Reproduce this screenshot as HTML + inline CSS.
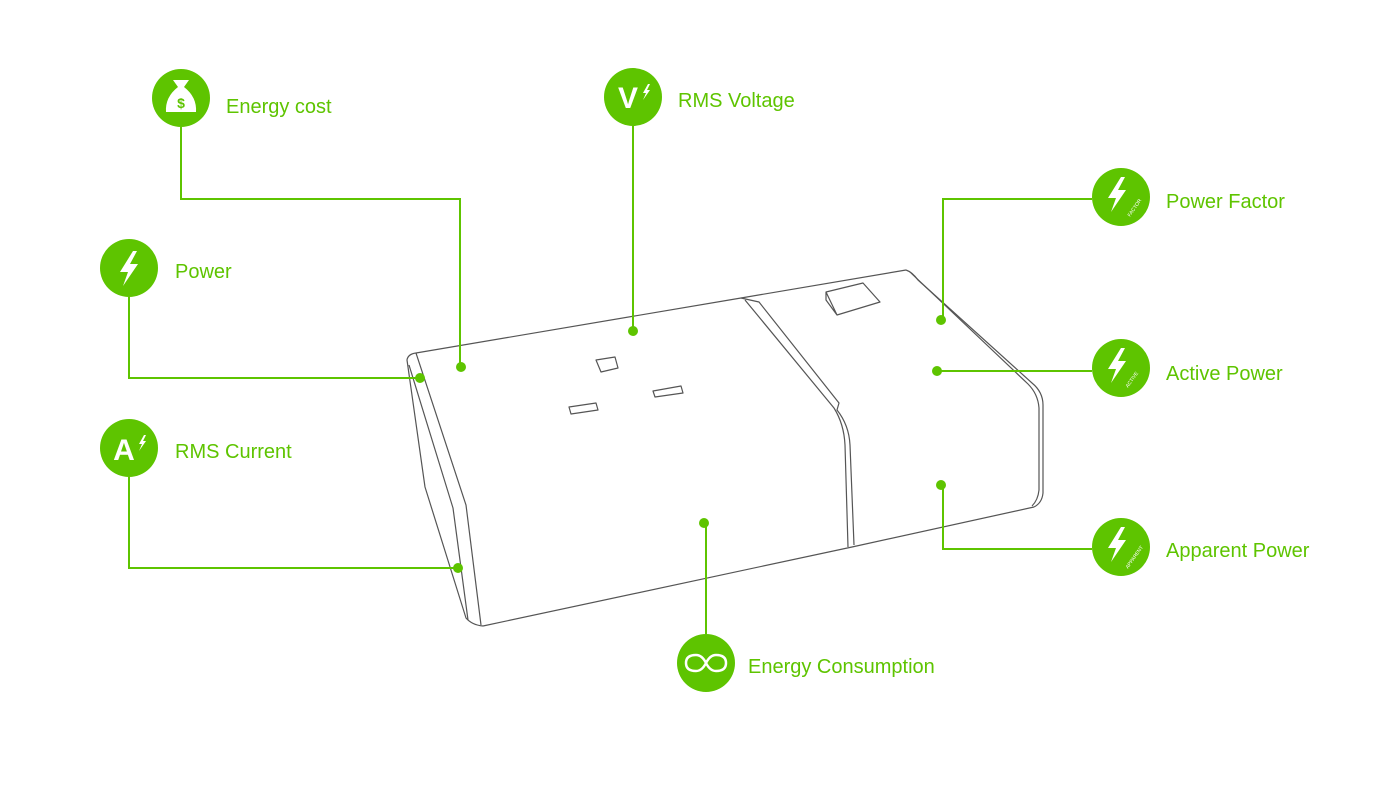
<!DOCTYPE html>
<html><head><meta charset="utf-8"><style>
html,body{margin:0;padding:0;background:#fff;}
svg{display:block;}
text{font-family:"Liberation Sans",sans-serif;}
</style></head><body>
<svg width="1400" height="788" viewBox="0 0 1400 788" xmlns="http://www.w3.org/2000/svg">
<defs>
<g id="bolt"><path d="M4,-17 L-9,4 L-1,4 L-6,18 L9,-4 L1,-4 L8,-17 Z" fill="#fff"/></g>
</defs>
<!-- device -->
<g fill="none" stroke="#555" stroke-width="1.2" stroke-linejoin="round">
<path d="M416,353 L741,298 L906,270"/>
<path d="M416,353 Q408,354 407,360 L425,487 L466,618 Q472,625 483,626"/>
<path d="M416,353 L466,505 L481,625"/>
<path d="M409,365 L453,508 L468,620"/>
<path d="M483,626 L852,547 L1034,507"/>
<path d="M906,270 Q912,272 918,280 L1032,383 Q1043,392 1043,405 L1043,493 Q1042,503 1034,507"/>
<path d="M911,273 L1028,384 Q1038,394 1039,408 L1039,490 Q1038,500 1032,506"/>
<path d="M741,298 L759,302 L839,403 L837,410 Q849,425 850,445 L854,545"/>
<path d="M745,300 L834,408 Q844,424 845,445 L848,547"/>
<path d="M826,292 L863,283 L880,302 L837,315 Z M826,292 L826,300 L837,315"/>
<path d="M596,360 L615,357 L618,368 L601,372 Z"/>
<path d="M569,407 L596,403 L598,410 L571,414 Z"/>
<path d="M653,391 L681,386 L683,393 L655,397 Z"/>
</g>
<!-- connectors -->
<g fill="none" stroke="#5ec400" stroke-width="2">
<path d="M181,127 V199 H460 V367"/>
<path d="M633,126 V331"/>
<path d="M129,297 V378 H420"/>
<path d="M129,477 V568 H458"/>
<path d="M1092,199 H943 V320"/>
<path d="M1092,371 H937"/>
<path d="M1092,549 H943 V485"/>
<path d="M706,634 V523"/>
</g>
<g fill="#5ec400">
<circle cx="461" cy="367" r="5"/><circle cx="633" cy="331" r="5"/>
<circle cx="420" cy="378" r="5"/><circle cx="458" cy="568" r="5"/>
<circle cx="941" cy="320" r="5"/><circle cx="937" cy="371" r="5"/>
<circle cx="941" cy="485" r="5"/><circle cx="704" cy="523" r="5"/>
<circle cx="181" cy="98" r="29"/><circle cx="633" cy="97" r="29"/>
<circle cx="129" cy="268" r="29"/><circle cx="129" cy="448" r="29"/>
<circle cx="1121" cy="197" r="29"/><circle cx="1121" cy="368" r="29"/>
<circle cx="1121" cy="547" r="29"/><circle cx="706" cy="663" r="29"/>
</g>
<!-- icons -->
<path d="M173,80 L189,80 L184,87 Q197,97 196,112 L166,112 Q165,97 178,87 Z" fill="#fff"/>
<text x="181" y="108" font-size="14" fill="#5ec400" text-anchor="middle" font-weight="bold">$</text>
<text x="628" y="108" font-size="30" fill="#fff" text-anchor="middle" font-weight="bold">V</text>
<path d="M648,84 L643,93 L646,93 L643,100 L650,90 L647,90 L650,84Z" fill="#fff"/>
<use href="#bolt" x="129" y="268"/>
<text x="124" y="460" font-size="30" fill="#fff" text-anchor="middle" font-weight="bold">A</text>
<path d="M144,435 L139,444 L142,444 L139,451 L146,441 L143,441 L146,435Z" fill="#fff"/>
<use href="#bolt" x="1117" y="194"/><use href="#bolt" x="1117" y="365"/><use href="#bolt" x="1117" y="544"/>
<text x="1130" y="217" font-size="5" fill="#fff" transform="rotate(-55 1130 217)">FACTOR</text>
<text x="1128" y="388" font-size="5" fill="#fff" transform="rotate(-55 1128 388)">ACTIVE</text>
<text x="1128" y="569" font-size="5" fill="#fff" transform="rotate(-55 1128 569)">APPARENT</text>
<path d="M696,655 Q686,655 686,663 Q686,671 696,671 Q702,671 706,663 Q710,655 716,655 Q726,655 726,663 Q726,671 716,671 Q710,671 706,663 Q702,655 696,655Z" fill="none" stroke="#fff" stroke-width="2.5"/>
<!-- labels -->
<g fill="#5ec400" font-size="20">
<text x="226" y="113">Energy cost</text>
<text x="678" y="107">RMS Voltage</text>
<text x="175" y="278">Power</text>
<text x="175" y="458">RMS Current</text>
<text x="1166" y="208">Power Factor</text>
<text x="1166" y="380">Active Power</text>
<text x="1166" y="557">Apparent Power</text>
<text x="748" y="673">Energy Consumption</text>
</g>
</svg>
</body></html>
